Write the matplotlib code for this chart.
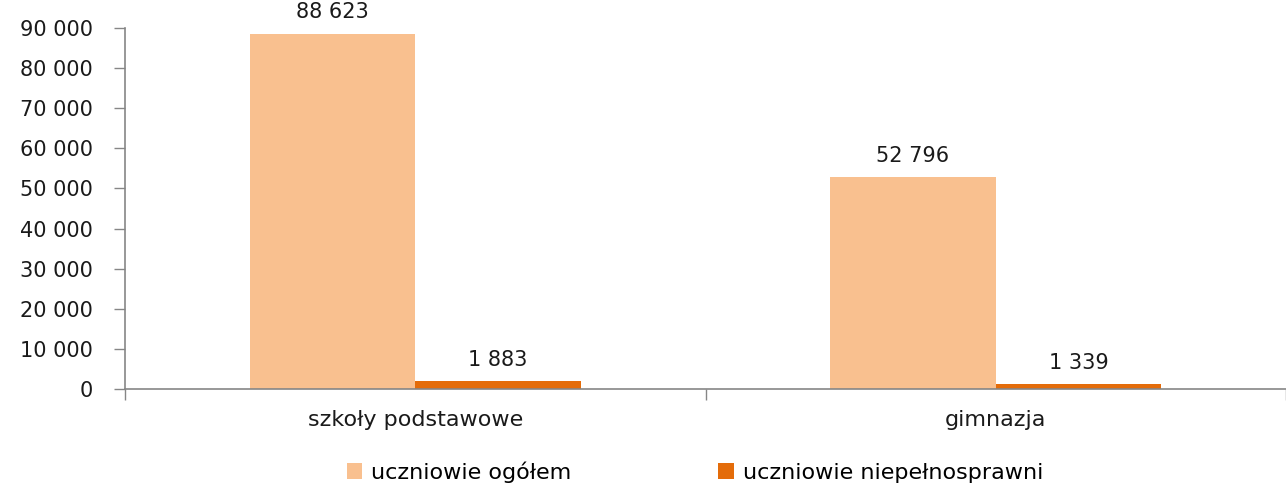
import numpy as np
import matplotlib.pyplot as plt
from matplotlib.ticker import FuncFormatter, FixedLocator

categories = ["szkoły podstawowe", "gimnazja"]
ogolem = [88623, 52796]
niepelnosprawni = [1883, 1339]
series_names = ["uczniowie ogółem", "uczniowie niepełnosprawni"]

c_light = "#F9C08F"
c_dark = "#E46C0A"
axis_col = "#868686"
txt_col = "#1a1a1a"

plt.rcParams['font.family'] = ['DejaVu Sans']

fig = plt.figure(figsize=(12.86, 4.84), dpi=100)
ax = fig.add_axes([125 / 1286, 95 / 484, (1286 - 125) / 1286, 361 / 484])

x = np.arange(len(categories))
w = 0.285
b1 = ax.bar(x - w / 2, ogolem, w, color=c_light, label=series_names[0])
b2 = ax.bar(x + w / 2, niepelnosprawni, w, color=c_dark, label=series_names[1])


def fmt(v, pos=None):
    return f"{int(v):,}".replace(",", " ")


# etykiety wartosci nad slupkami
for bars, vals in ((b1, ogolem), (b2, niepelnosprawni)):
    for r, v in zip(bars, vals):
        ax.annotate(fmt(v), (r.get_x() + r.get_width() / 2, v),
                    xytext=(0, 8), textcoords="offset points",
                    ha="center", va="bottom", fontsize=15, color=txt_col,
                    annotation_clip=False)

ax.set_ylim(0, 90000)
ax.set_xlim(-0.5, (1286 - 125) / 585 - 0.5)
ax.yaxis.set_major_locator(FixedLocator(np.arange(0, 90001, 10000)))
ax.yaxis.set_major_formatter(FuncFormatter(fmt))
ax.tick_params(axis="y", labelsize=15, length=8, width=1, color=axis_col,
               pad=15, labelcolor=txt_col)

ax.set_xticks(x)
ax.set_xticklabels(categories, fontsize=16, color=txt_col)
ax.tick_params(axis="x", length=0, pad=15)
ax.set_xticks([-0.5, 0.5, 1.5], minor=True)
ax.tick_params(axis="x", which="minor", length=8, width=1, color=axis_col)

for s in ("top", "right"):
    ax.spines[s].set_visible(False)
for s in ("left", "bottom"):
    ax.spines[s].set_color(axis_col)
    ax.spines[s].set_linewidth(1.2)

fig.legend(handles=[b1, b2], labels=series_names, loc="center",
           bbox_to_anchor=(695 / 1286, 1 - 472 / 484), ncol=2, frameon=False,
           fontsize=16, handlelength=0.7, handleheight=0.7, columnspacing=6.6,
           handletextpad=0.4, borderpad=0)

fig.savefig("out.png", dpi=100)
